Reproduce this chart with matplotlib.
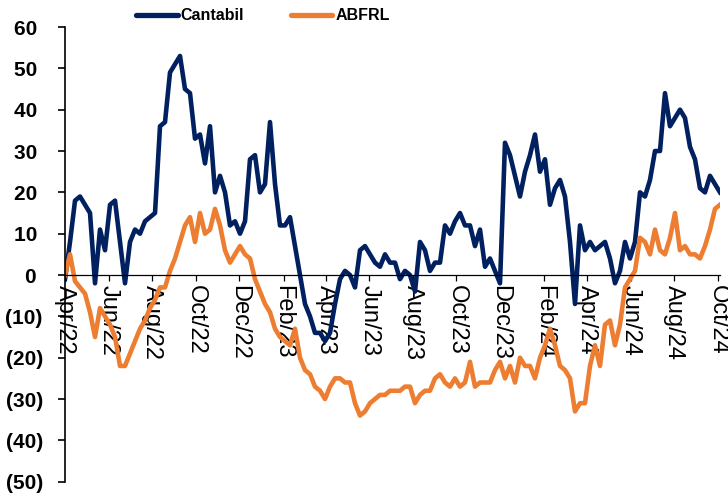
import numpy as np
import pandas as pd
import matplotlib
matplotlib.use('Agg')
import matplotlib.pyplot as plt
import matplotlib.dates as mdates
from matplotlib.ticker import FixedLocator, FuncFormatter

# Weekly readings, Apr/22 - Oct/24
dates = pd.date_range('2022-04-01', periods=132, freq='7D')

cantabil = [
    -1, 8, 18, 19, 17, 15, -2, 11, 6, 17,
    18, 8, -2, 8, 11, 10, 13, 14, 15, 36,
    37, 49, 51, 53, 45, 44, 33, 34, 27, 36,
    20, 24, 20, 12, 13, 10, 13, 28, 29, 20,
    22, 37, 22, 12, 12, 14, 7, 0, -7, -10,
    -14, -14, -16, -14, -7, -1, 1, 0, -3, 6,
    7, 5, 3, 2, 5, 3, 3, -1, 1, 0,
    -4, 8, 6, 1, 3, 3, 12, 10, 13, 15,
    12, 12, 7, 11, 2, 4, 1, -2, 32, 29,
    24, 19, 25, 29, 34, 25, 28, 17, 21, 23,
    19, 8, -7, 12, 6, 8, 6, 7, 8, 4,
    -2, 1, 8, 4, 8, 20, 19, 23, 30, 30,
    44, 36, 38, 40, 38, 31, 28, 21, 20, 24,
    22, 20,
]

abfrl = [
    0, 5, -1.5, -3, -4.5, -9, -15, -8, -10, -12,
    -15, -22, -22, -19, -16, -13, -11, -8, -6, -3,
    -3, 1, 4, 8, 12, 14, 8, 15, 10, 11,
    16, 12, 6, 3, 5, 7, 5, 4, -1, -4,
    -7, -9, -13, -15, -16, -17, -13, -20, -23, -24,
    -27, -28, -30, -27, -25, -25, -26, -26, -31, -34,
    -33, -31, -30, -29, -29, -28, -28, -28, -27, -27,
    -31, -29, -28, -28, -25, -24, -26, -27, -25, -27,
    -26, -21, -27, -26, -26, -26, -23, -21, -25, -22,
    -26, -20, -22, -22, -25, -20, -17, -13, -17, -22,
    -23, -25, -33, -31, -31, -22, -17, -22, -12, -11,
    -17, -12, -3, -1, 1, 9, 8, 5, 11, 6,
    5, 9, 15, 6, 7, 5, 5, 4, 7, 11,
    16, 17,
]

series_names = ['Cantabil', 'ABFRL']
colors = ['#002060', '#ED7D31']
y_ticks = list(range(-50, 61, 10))

fig = plt.figure(figsize=(7.28, 4.94), dpi=100)
ax = fig.add_axes([0.0893, 0.0249, 0.8997, 0.9204])

ax.plot(dates, cantabil, color=colors[0], lw=3.3, label=series_names[0],
        solid_joinstyle='round')
ax.plot(dates, abfrl, color=colors[1], lw=3.3, label=series_names[1],
        solid_joinstyle='round')

ax.set_ylim(-50, 60)
ax.set_xlim(pd.Timestamp('2022-04-01'), pd.Timestamp('2024-10-04'))

# y axis: parentheses for negatives
ax.yaxis.set_major_locator(FixedLocator(y_ticks))
ax.yaxis.set_major_formatter(FuncFormatter(
    lambda v, p: f'({abs(int(v))})' if v < 0 else f'{int(v)} '))
ax.tick_params(axis='y', direction='out', length=5, width=1.2, pad=11)
for lab in ax.get_yticklabels():
    lab.set_fontfamily('Liberation Sans')
    lab.set_fontweight('bold')
    lab.set_fontsize(15)

# x axis sits on zero
ax.spines['bottom'].set_position(('data', 0))
ax.spines['top'].set_visible(False)
ax.spines['right'].set_visible(False)
ax.spines['left'].set_linewidth(1.2)
ax.spines['bottom'].set_linewidth(0.9)
ax.xaxis.set_major_locator(mdates.MonthLocator(bymonth=[2, 4, 6, 8, 10, 12]))
ax.xaxis.set_major_formatter(mdates.DateFormatter('%b/%y'))
ax.tick_params(axis='x', direction='out', length=4.5, width=0.9, pad=3)
for lab in ax.get_xticklabels():
    lab.set_rotation(270)
    lab.set_va('top')
    lab.set_ha('center')
    lab.set_fontfamily('Liberation Sans')
    lab.set_fontsize(17)

leg = fig.legend(loc='center', bbox_to_anchor=(0.361, 0.968), ncol=2,
                 frameon=False, handlelength=2.6, handletextpad=0.2,
                 columnspacing=2.9,
                 prop={'family': 'Liberation Sans', 'weight': 'bold', 'size': 11.5})
for line in leg.get_lines():
    line.set_linewidth(3.8)
    line.set_solid_capstyle('round')

fig.savefig('out.png', dpi=100)
